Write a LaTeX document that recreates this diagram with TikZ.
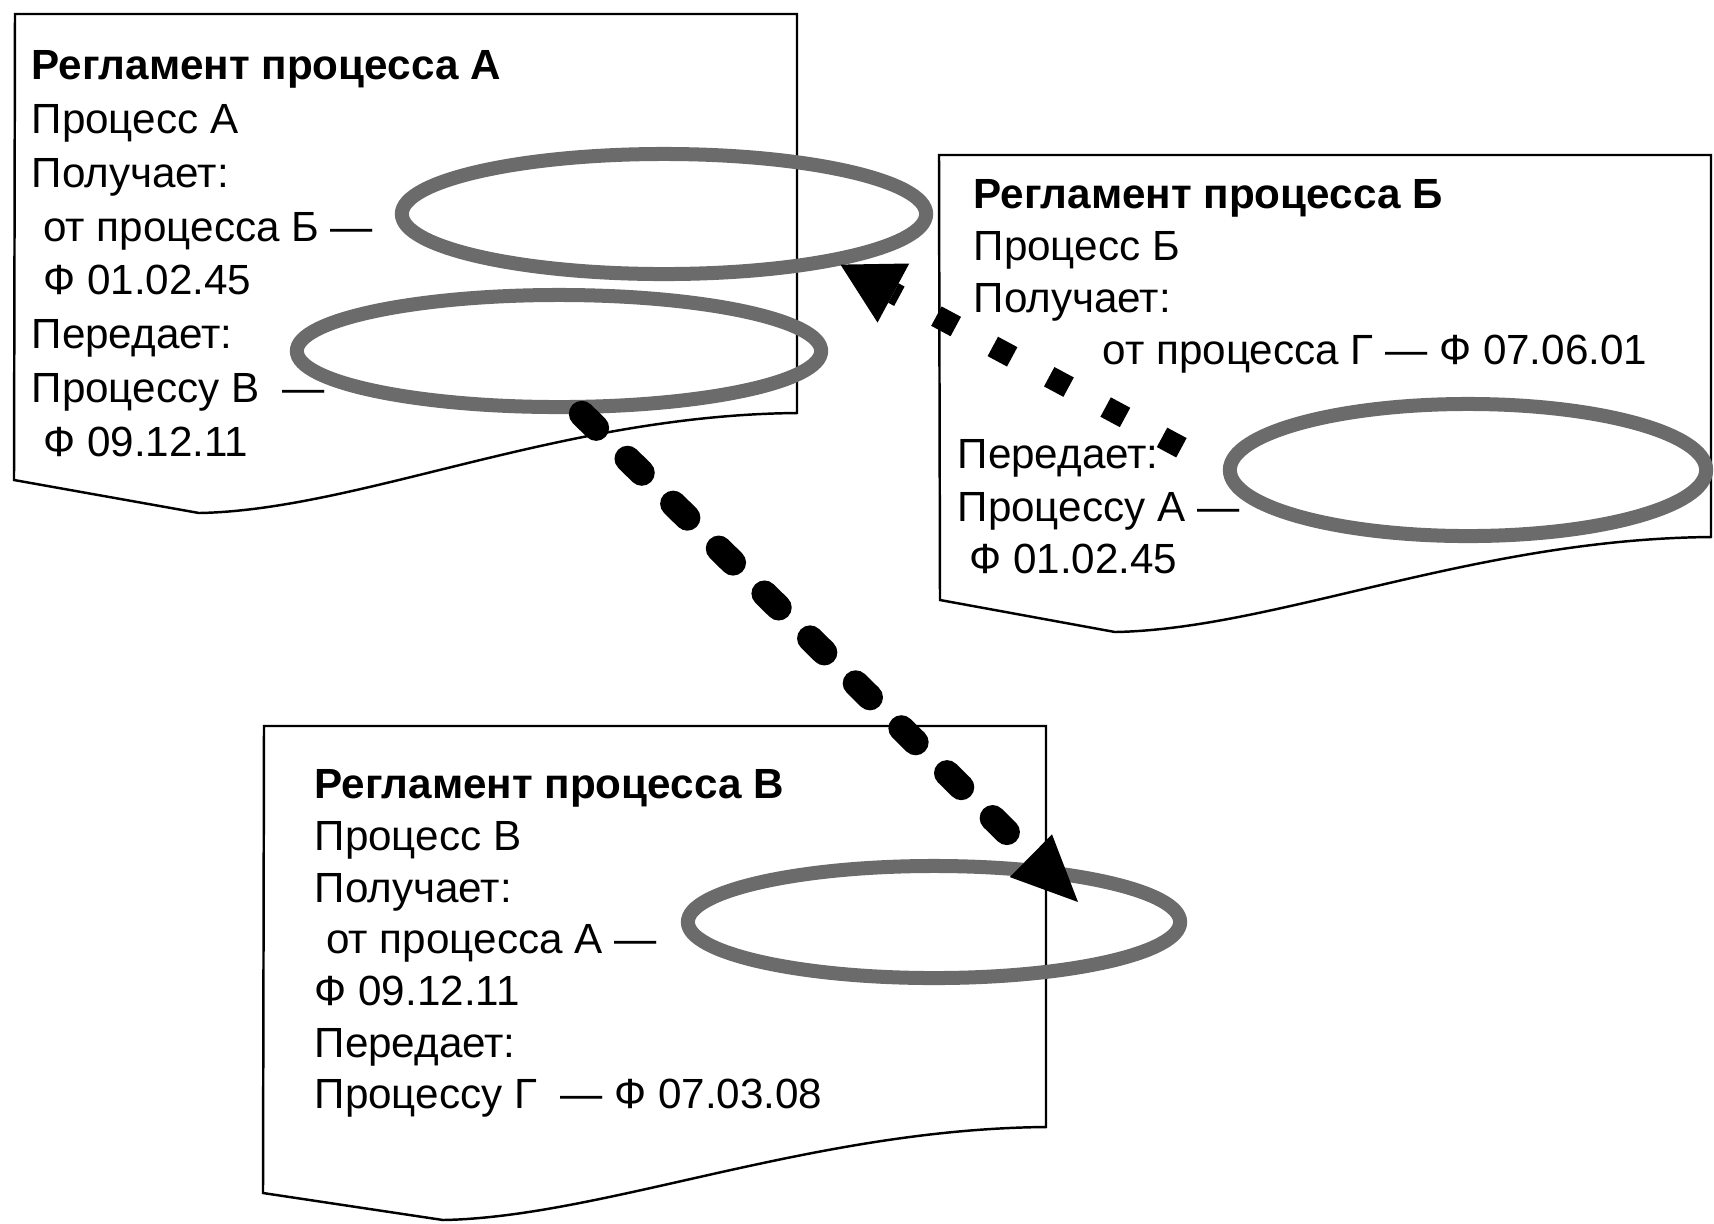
\documentclass[tikz,border=0pt]{standalone}
\usepackage{fontspec}
\setmainfont{Liberation Sans}
\usepackage{tikz}
\usetikzlibrary{arrows.meta,shapes.geometric}

\begin{document}
\begin{tikzpicture}[x=0.01cm, y=-0.01cm,
        hoja/.style={draw, line width=0.7pt, fill=white},
        texto/.style={anchor=north west, align=left, inner sep=0pt,
            font=\fontsize{12pt}{#1}\selectfont},
        texto/.default=14.8pt,
        marca/.style={ellipse, draw=black!58, line width=0.14cm, inner sep=0pt},
        punteada/.style={line width=0.22cm, line cap=butt,
            dash pattern=on 0.22cm off 0.42cm, shorten <=0.47cm,
            -{Triangle[length=0.6cm, width=0.67cm, line width=0pt]}},
        discontinua/.style={line width=0.26cm, line cap=round,
            dash pattern=on 0.2cm off 0.44cm,
            -{Triangle[length=0.66cm, width=0.6cm, line width=0pt]}}]

    \useasboundingbox (0,0) rectangle (1714,1223);

    % Hojas de los reglamentos
    \draw[hoja] (15,14) -- (797,14) -- (797,413)
        .. controls (560,415) and (360,510) .. (199,513) -- (14,480) -- cycle;
    \draw[hoja] (939,155) -- (1711,155) -- (1711,537)
        .. controls (1474,539) and (1276,629) .. (1115,632) -- (940,600) -- cycle;
    \draw[hoja] (264,726) -- (1046,726) -- (1046,1127)
        .. controls (811,1129) and (604,1217) .. (443,1220) -- (263,1193) -- cycle;

    % Textos
    \node[texto=15.3pt] (tA) at (31,50) {\textbf{Регламент процесса А}\\
        Процесс А\\
        Получает:\\
        \ от процесса Б —\\
        \ Ф 01.02.45\\
        Передает:\\
        Процессу В \ —\\
        \ Ф 09.12.11};
    \node[texto] (tB) at (957,179) {\hspace*{0.16cm}\textbf{Регламент процесса Б}\\
        \hspace*{0.16cm}Процесс Б\\
        \hspace*{0.16cm}Получает:\\
        \hspace*{1.45cm}от процесса Г — Ф 07.06.01\\[14.8pt]
        Передает:\\
        Процессу А —\\
        \ Ф 01.02.45};
    \node[texto=14.7pt] (tV) at (314,769) {\textbf{Регламент процесса В}\\
        Процесс В\\
        Получает:\\
        \ от процесса А —\\
        Ф 09.12.11\\
        Передает:\\
        Процессу Г \ — Ф 07.03.08};

    % Elipses
    \foreach \n/\cx/\cy/\w/\h in {eA1/664/214/5.24/1.20, eA2/559/351/5.24/1.12,
                                  eB/1468/470/4.76/1.32, eV/934/922/4.92/1.12}
        \node[marca, minimum width=\w cm, minimum height=\h cm] (\n) at (\cx,\cy) {};

    % Flechas
    \coordinate (fin) at ([shift={(144,-20)}]eV.center);
    \draw[punteada] (eB.west) -- (eA1.-16);
    \draw[discontinua] (eA2.-70) -- (fin);

\end{tikzpicture}
\end{document}
